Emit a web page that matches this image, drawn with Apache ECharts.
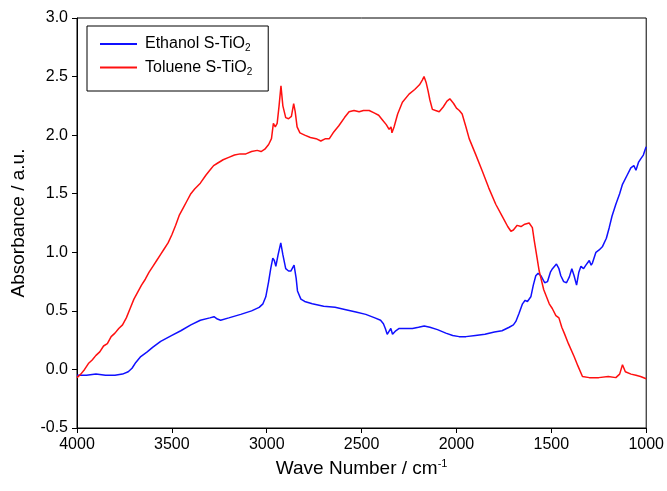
<!DOCTYPE html>
<html><head><meta charset="utf-8">
<script src="https://cdn.jsdelivr.net/npm/echarts@6/dist/echarts.min.js"></script>
<style>html,body{margin:0;padding:0;background:#fff}#c{width:667px;height:491px}</style>
</head><body><div id="c"></div>
<script>
var xTicks = [4000, 3500, 3000, 2500, 2000, 1500, 1000];
var yTicks = [-0.5, 0.0, 0.5, 1.0, 1.5, 2.0, 2.5, 3.0];
var seriesNames = ['Ethanol S-TiO{sub|2}', 'Toluene S-TiO{sub|2}'];

var ethanolWave = [4000,3950,3900,3850,3800,3760,3730,3710,3690,3664,3630,3600,3559,3500,3453,3400,3350,3300,3278,3260,3243,3200,3137,3080,3040,3020,3005,2990,2979,2968,2960,2952,2940,2926,2915,2900,2885,2873,2856,2845,2838,2820,2800,2760,2700,2640,2583,2530,2478,2430,2400,2385,2375,2365,2355,2346,2337,2320,2302,2260,2232,2200,2170,2140,2100,2056,2020,1986,1950,1900,1850,1800,1760,1722,1700,1687,1670,1652,1638,1626,1608,1595,1582,1570,1555,1535,1520,1505,1494,1473,1460,1450,1435,1420,1405,1392,1380,1367,1355,1344,1330,1318,1300,1290,1283,1265,1248,1230,1210,1195,1180,1160,1140,1125,1100,1081,1065,1054,1040,1028,1015,1005,1000];
var ethanolAbs = [-0.05,-0.05,-0.04,-0.05,-0.05,-0.04,-0.02,0.01,0.06,0.11,0.15,0.19,0.24,0.29,0.33,0.38,0.42,0.44,0.45,0.43,0.42,0.44,0.47,0.50,0.53,0.56,0.62,0.75,0.86,0.95,0.93,0.88,0.98,1.08,0.98,0.86,0.84,0.84,0.89,0.78,0.67,0.60,0.58,0.56,0.54,0.53,0.51,0.49,0.47,0.44,0.42,0.39,0.35,0.30,0.31,0.35,0.30,0.33,0.35,0.35,0.35,0.36,0.37,0.36,0.34,0.31,0.29,0.28,0.28,0.29,0.30,0.32,0.33,0.36,0.38,0.41,0.48,0.56,0.59,0.58,0.62,0.72,0.80,0.82,0.80,0.74,0.75,0.83,0.86,0.90,0.86,0.80,0.75,0.74,0.79,0.86,0.80,0.72,0.83,0.88,0.86,0.89,0.93,0.89,0.91,1.00,1.02,1.05,1.12,1.21,1.31,1.41,1.50,1.58,1.66,1.72,1.74,1.70,1.77,1.80,1.83,1.88,1.90];

var tolueneWave = [4000,3980,3960,3940,3920,3900,3880,3860,3840,3820,3800,3780,3760,3740,3720,3700,3680,3660,3640,3620,3600,3580,3560,3540,3520,3500,3480,3460,3440,3420,3400,3380,3350,3320,3300,3280,3260,3230,3200,3170,3140,3110,3080,3050,3030,3010,2990,2975,2965,2955,2945,2935,2925,2915,2900,2885,2870,2858,2850,2840,2825,2800,2770,2740,2715,2690,2670,2650,2620,2590,2566,2540,2513,2490,2460,2434,2410,2390,2370,2355,2345,2340,2329,2310,2285,2250,2220,2195,2180,2171,2160,2150,2140,2127,2110,2091,2070,2050,2035,2015,2000,1985,1970,1950,1933,1900,1863,1830,1793,1760,1730,1713,1700,1680,1660,1640,1617,1600,1590,1575,1564,1540,1511,1495,1476,1460,1445,1432,1410,1380,1360,1336,1300,1250,1200,1160,1140,1125,1110,1080,1054,1030,1000];
var tolueneAbs = [-0.07,-0.04,0.00,0.05,0.08,0.12,0.15,0.20,0.22,0.28,0.31,0.35,0.38,0.44,0.52,0.60,0.66,0.72,0.77,0.83,0.88,0.93,0.98,1.03,1.08,1.15,1.23,1.32,1.38,1.44,1.50,1.54,1.59,1.66,1.70,1.74,1.76,1.79,1.81,1.83,1.84,1.84,1.86,1.87,1.86,1.88,1.92,1.97,2.10,2.07,2.10,2.25,2.42,2.25,2.15,2.14,2.16,2.27,2.20,2.07,2.02,2.00,1.98,1.97,1.95,1.97,1.97,2.02,2.08,2.15,2.20,2.21,2.20,2.21,2.21,2.19,2.17,2.13,2.09,2.05,2.07,2.02,2.07,2.18,2.28,2.35,2.39,2.43,2.47,2.50,2.45,2.38,2.30,2.22,2.21,2.20,2.24,2.29,2.31,2.27,2.23,2.21,2.18,2.07,1.97,1.84,1.69,1.55,1.41,1.31,1.22,1.18,1.19,1.23,1.22,1.24,1.25,1.21,1.10,0.95,0.84,0.68,0.56,0.52,0.46,0.44,0.36,0.31,0.22,0.11,0.03,-0.06,-0.07,-0.07,-0.06,-0.07,-0.04,0.04,-0.02,-0.04,-0.05,-0.06,-0.08];

function pairs(w, a) { return w.map(function (x, i) { return [x, a[i]]; }); }

var chart = echarts.init(document.getElementById('c'), null, {renderer: 'canvas'});
var font = 'Liberation Sans, Arial, sans-serif';
var rich = {sub: {fontSize: 10, fontFamily: font, color: '#000', padding: [9, 0, 0, 0]}};
chart.setOption({
  animation: false,
  backgroundColor: '#fff',
  grid: {left: 77, right: 20, top: 18, bottom: 63, show: true, borderColor: '#000', borderWidth: 1},
  legend: {
    orient: 'vertical', left: 87, top: 26,
    borderColor: '#000', borderWidth: 1, padding: [10, 16, 14, 13],
    icon: 'rect', itemWidth: 37, itemHeight: 2, itemGap: 6,
    data: seriesNames,
    textStyle: {fontFamily: font, fontSize: 16, color: '#000', rich: rich, padding: [0, 0, 0, 3]}
  },
  xAxis: {
    type: 'value', inverse: true, min: xTicks[xTicks.length - 1], max: xTicks[0], interval: 500,
    name: 'Wave Number / cm{sup|-1}', nameLocation: 'middle', nameGap: 30,
    nameTextStyle: {fontFamily: font, fontSize: 19, color: '#000',
      rich: {sup: {fontSize: 11, fontFamily: font, color: '#000', padding: [0, 0, 11, 0]}}},
    axisLine: {onZero: false, lineStyle: {color: '#000', width: 1}},
    axisTick: {inside: false, length: 5, lineStyle: {color: '#000'}},
    axisLabel: {fontFamily: font, fontSize: 16, color: '#000', margin: 9,
      formatter: function (v) { return String(v); }},
    splitLine: {show: false}
  },
  yAxis: {
    type: 'value', min: yTicks[0], max: yTicks[yTicks.length - 1], interval: 0.5,
    name: 'Absorbance / a.u.', nameLocation: 'middle', nameGap: 49,
    nameTextStyle: {fontFamily: font, fontSize: 19, color: '#000'},
    axisLine: {onZero: false, lineStyle: {color: '#000', width: 1}},
    axisTick: {inside: false, length: 5, lineStyle: {color: '#000'}},
    axisLabel: {fontFamily: font, fontSize: 16, color: '#000', margin: 9,
      formatter: function (v) { return v.toFixed(1); }},
    splitLine: {show: false}
  },
  series: [
    {name: seriesNames[0], type: 'line', symbol: 'none', data: pairs(ethanolWave, ethanolAbs),
     lineStyle: {color: '#1010ff', width: 1.5}, itemStyle: {color: '#1010ff'}},
    {name: seriesNames[1], type: 'line', symbol: 'none', data: pairs(tolueneWave, tolueneAbs),
     lineStyle: {color: '#ff1010', width: 1.5}, itemStyle: {color: '#ff1010'}}
  ]
});
</script></body></html>
